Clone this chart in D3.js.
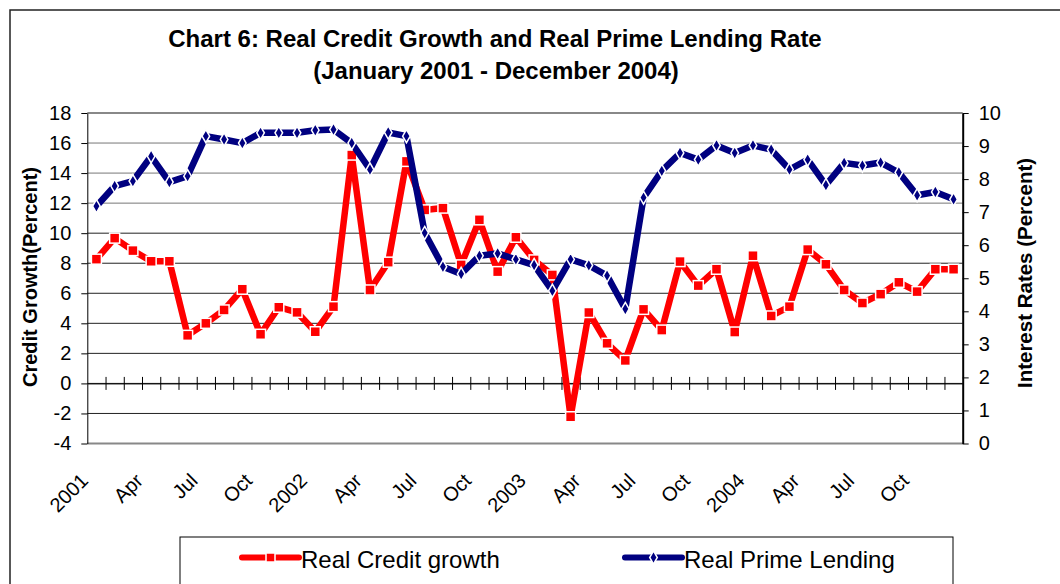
<!DOCTYPE html>
<html>
<head>
<meta charset="utf-8">
<script src="https://cdn.jsdelivr.net/npm/d3@7"></script>
<style>
  body { margin: 0; background: #fff; }
  text { font-family: Arial, "Liberation Sans", sans-serif; fill: #000; }
</style>
</head>
<body>
<div id="chart"></div>
<script>
// month labels shown under the axis (every third month)
const tickLabels = ["2001", "Apr", "Jul", "Oct", "2002", "Apr", "Jul", "Oct",
                    "2003", "Apr", "Jul", "Oct", "2004", "Apr", "Jul", "Oct"];

// Real credit growth, Jan 2001 - Dec 2004 (left axis)
const creditGrowth = [8.27, 9.67, 8.84, 8.13, 8.13, 3.2, 4.0, 4.89, 6.27, 3.27, 5.07, 4.73,
                      3.44, 5.11, 15.2, 6.22, 8.07, 14.78, 11.55, 11.67, 7.89, 10.89, 7.44, 9.73,
                      8.22, 7.22, -2.22, 4.72, 2.67, 1.53, 4.93, 3.55, 8.11, 6.51, 7.6, 3.42,
                      8.5, 4.49, 5.11, 8.91, 7.93, 6.22, 5.35, 5.94, 6.73, 6.11, 7.6, 7.6];

// Real prime lending rate (right axis)
const primeLending = [7.18, 7.79, 7.94, 8.69, 7.91, 8.09, 9.3, 9.2, 9.09, 9.4, 9.4, 9.4,
                      9.48, 9.5, 9.09, 8.29, 9.41, 9.3, 6.37, 5.35, 5.13, 5.68, 5.75, 5.57,
                      5.4, 4.62, 5.57, 5.39, 5.08, 4.07, 7.44, 8.25, 8.79, 8.59, 9.02, 8.79,
                      9.02, 8.89, 8.29, 8.59, 7.82, 8.49, 8.41, 8.5, 8.2, 7.51, 7.61, 7.39];

const leftTicks = [-4, -2, 0, 2, 4, 6, 8, 10, 12, 14, 16, 18];
const rightTicks = [0, 1, 2, 3, 4, 5, 6, 7, 8, 9, 10];

const width = 1060, height = 584;
const plotLeft = 87.3, plotRight = 962.7, plotTop = 113, plotBottom = 443.5;

const svg = d3.select("#chart").append("svg")
    .attr("width", width)
    .attr("height", height);

// outer frame
svg.append("rect")
    .attr("x", 10).attr("y", 10)
    .attr("width", 1100).attr("height", 700)
    .attr("fill", "none")
    .attr("stroke", "#222")
    .attr("stroke-width", 1.5);

const n = creditGrowth.length;
const xIdx = d3.scaleLinear().domain([0, n]).range([plotLeft, plotRight]);
const xc = i => xIdx(i + 0.5);

const yL = d3.scaleLinear().domain([-4, 18]).range([plotBottom, plotTop]);
const yR = d3.scaleLinear().domain([0, 10]).range([plotBottom, plotTop]);

// gridlines
svg.append("g")
    .selectAll("line")
    .data(leftTicks)
    .enter().append("line")
    .attr("x1", plotLeft).attr("x2", plotRight)
    .attr("y1", d => yL(d)).attr("y2", d => yL(d))
    .attr("stroke", d => (d === 18 || d === -4) ? "#888" : (d >= 12 ? "#777" : "#222"))
    .attr("stroke-width", d => (d === 18 || d === -4) ? 2 : 1);

// left axis (plain hyphen for negatives, like the original)
svg.append("g")
    .attr("transform", `translate(${plotLeft},0)`)
    .call(d3.axisLeft(yL).tickValues(leftTicks).tickFormat(d => String(d))
        .tickSize(6).tickPadding(10).tickSizeOuter(0))
    .call(g => g.selectAll("text").style("font-size", "20px"))
    .call(g => g.selectAll("line,path").attr("stroke", "#000"));

// right axis
svg.append("g")
    .attr("transform", `translate(${plotRight},0)`)
    .call(d3.axisRight(yR).tickValues(rightTicks).tickSize(6).tickPadding(10).tickSizeOuter(0))
    .call(g => g.selectAll("text").style("font-size", "20px"))
    .call(g => g.selectAll("line").attr("stroke", "#000"))
    .call(g => g.select("path").attr("stroke", "#000").attr("stroke-width", 2));

// x axis at zero with crossing ticks
const y0 = yL(0);
const xAxis = svg.append("g")
    .attr("transform", `translate(0,${y0})`)
    .call(d3.axisBottom(xIdx).tickValues(d3.range(1, n)).tickFormat("").tickSizeOuter(0));
xAxis.select("path").attr("stroke", "#000");
xAxis.selectAll(".tick line").attr("y1", -6.5).attr("y2", 6.5).attr("stroke", "#000");

// rotated month labels
svg.append("g")
    .selectAll("text")
    .data(tickLabels)
    .enter().append("text")
    .attr("transform", (d, i) => `translate(${xc(i * 3) - 7},482) rotate(-45)`)
    .attr("text-anchor", "end")
    .style("font-size", "20px")
    .text(d => d);

// series
const redLine = d3.line().x((d, i) => xc(i)).y(d => yL(d));
const blueLine = d3.line().x((d, i) => xc(i)).y(d => yR(d));

svg.append("path")
    .datum(creditGrowth)
    .attr("d", redLine)
    .attr("fill", "none")
    .attr("stroke", "#ff0000")
    .attr("stroke-width", 6.5)
    .attr("stroke-linejoin", "round");

svg.append("g")
    .selectAll("rect")
    .data(creditGrowth)
    .enter().append("rect")
    .attr("x", (d, i) => xc(i) - 5)
    .attr("y", d => yL(d) - 5)
    .attr("width", 10).attr("height", 10)
    .attr("fill", "#ff0000")
    .attr("stroke", "#fff")
    .attr("stroke-width", 1.5);

svg.append("path")
    .datum(primeLending)
    .attr("d", blueLine)
    .attr("fill", "none")
    .attr("stroke", "#000080")
    .attr("stroke-width", 6.5)
    .attr("stroke-linejoin", "round");

const diamond = d3.symbol().type(d3.symbolDiamond).size(50);
svg.append("g")
    .selectAll("path")
    .data(primeLending)
    .enter().append("path")
    .attr("transform", (d, i) => `translate(${xc(i)},${yR(d)})`)
    .attr("d", diamond)
    .attr("fill", "#000080")
    .attr("stroke", "#fff")
    .attr("stroke-width", 1.5);

// titles
svg.append("text")
    .attr("x", 495).attr("y", 47)
    .attr("text-anchor", "middle")
    .style("font-size", "24px").style("font-weight", "bold")
    .text("Chart 6: Real Credit Growth and Real Prime Lending Rate");
svg.append("text")
    .attr("x", 496).attr("y", 79)
    .attr("text-anchor", "middle")
    .style("font-size", "24px").style("font-weight", "bold")
    .text("(January 2001 - December 2004)");

svg.append("text")
    .attr("transform", "translate(37,277) rotate(-90)")
    .attr("text-anchor", "middle")
    .style("font-size", "20px").style("font-weight", "bold")
    .text("Credit Growth(Percent)");
svg.append("text")
    .attr("transform", "translate(1032,273) rotate(-90)")
    .attr("text-anchor", "middle")
    .style("font-size", "20.5px").style("font-weight", "bold")
    .text("Interest Rates (Percent)");

// legend
const legend = svg.append("g");
legend.append("rect")
    .attr("x", 180).attr("y", 537)
    .attr("width", 773).attr("height", 60)
    .attr("fill", "#fff")
    .attr("stroke", "#000")
    .attr("stroke-width", 1);

const legendItems = [
    {name: "Real Credit growth", color: "#ff0000", x: 242, marker: "square"},
    {name: "Real Prime Lending", color: "#000080", x: 625, marker: "diamond"}
];
legendItems.forEach(item => {
    legend.append("line")
        .attr("x1", item.x).attr("x2", item.x + 57)
        .attr("y1", 557.5).attr("y2", 557.5)
        .attr("stroke", item.color)
        .attr("stroke-width", 6)
        .attr("stroke-linecap", "round");
    if (item.marker === "square") {
        legend.append("rect")
            .attr("x", item.x + 28.5 - 4.5).attr("y", 553)
            .attr("width", 9).attr("height", 9)
            .attr("fill", item.color)
            .attr("stroke", "#fff").attr("stroke-width", 1.5);
    } else {
        legend.append("path")
            .attr("transform", `translate(${item.x + 28.5},557.5)`)
            .attr("d", diamond)
            .attr("fill", item.color)
            .attr("stroke", "#fff").attr("stroke-width", 1.5);
    }
    legend.append("text")
        .attr("x", item.x + 59).attr("y", 568)
        .style("font-size", "24px")
        .text(item.name);
});
</script>
</body>
</html>
